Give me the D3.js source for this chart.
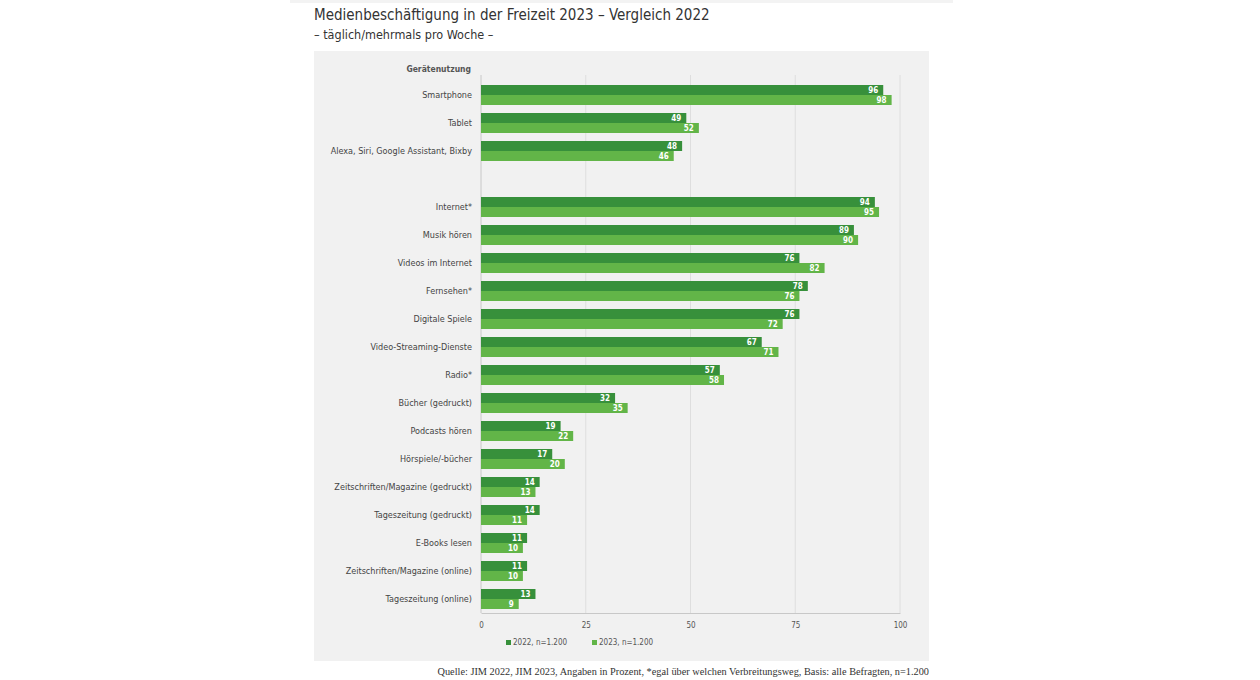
<!DOCTYPE html>
<html>
<head>
<meta charset="utf-8">
<script src="https://cdn.jsdelivr.net/npm/d3@7"></script>
<style>
  body { margin: 0; background: #fff; }
  svg { display: block; }
  text { font-family: "DejaVu Sans Condensed", "DejaVu Sans", sans-serif; }
</style>
</head>
<body>
<div id="chart"></div>
<script>
// Kategorien (leerer Eintrag = Abstand nach der Gerätenutzung)
const categories = [
  "Smartphone", "Tablet", "Alexa, Siri, Google Assistant, Bixby", "",
  "Internet*", "Musik hören", "Videos im Internet", "Fernsehen*",
  "Digitale Spiele", "Video-Streaming-Dienste", "Radio*", "Bücher (gedruckt)",
  "Podcasts hören", "Hörspiele/-bücher", "Zeitschriften/Magazine (gedruckt)",
  "Tageszeitung (gedruckt)", "E-Books lesen", "Zeitschriften/Magazine (online)",
  "Tageszeitung (online)"
];
const values2022 = [96, 49, 48, null, 94, 89, 76, 78, 76, 67, 57, 32, 19, 17, 14, 14, 11, 11, 13];
const values2023 = [98, 52, 46, null, 95, 90, 82, 76, 72, 71, 58, 35, 22, 20, 13, 11, 10, 10, 9];
const series = ["2022, n=1.200", "2023, n=1.200"];
const xTicks = [0, 25, 50, 75, 100];

const colors = ["#37903b", "#62b548"];

const width = 1260, height = 680;
const svg = d3.select('#chart')
  .append('svg')
  .attr('width', width)
  .attr('height', height);

// leichter Streifen oben
svg.append('rect')
  .attr('x', 290).attr('y', 0).attr('width', 663).attr('height', 3)
  .attr('fill', '#f3f3f3');

// Titel
svg.append('text')
  .attr('x', 314).attr('y', 20)
  .style('font-size', '15px')
  .style('fill', '#333')
  .text('Medienbeschäftigung in der Freizeit 2023 – Vergleich 2022');
svg.append('text')
  .attr('x', 314).attr('y', 39)
  .style('font-size', '12.5px')
  .style('fill', '#333')
  .text('– täglich/mehrmals pro Woche –');

// Grauer Hintergrund
svg.append('rect')
  .attr('x', 314).attr('y', 51).attr('width', 615).attr('height', 610)
  .attr('fill', '#f1f1f1');

// Skalen
const x = d3.scaleLinear().domain([0, 100]).range([481, 900]);
const y = d3.scaleBand().domain(d3.range(categories.length)).range([81, 613]);
const ySub = d3.scaleBand().domain([0, 1]).range([4, 24]);

// Gitterlinien
svg.append('g')
  .selectAll('line')
  .data(xTicks)
  .enter().append('line')
  .attr('x1', d => x(d)).attr('x2', d => x(d))
  .attr('y1', 75).attr('y2', 613)
  .style('stroke', d => d === 0 ? '#c8c8c8' : '#dedede')
  .style('stroke-width', '1px');

// x-Achse
const xAxis = svg.append('g')
  .attr('transform', 'translate(0,613)')
  .call(d3.axisBottom(x).tickValues(xTicks).tickSize(0).tickPadding(9));
xAxis.select('.domain').style('stroke', '#c8c8c8');
xAxis.selectAll('text')
  .style('font-size', '8px')
  .style('fill', '#555')
  .style('font-family', '"DejaVu Sans Condensed", sans-serif');

// Überschrift Gerätenutzung
svg.append('text')
  .attr('x', 471).attr('y', 72)
  .attr('text-anchor', 'end')
  .style('font-size', '8.5px')
  .style('font-weight', 'bold')
  .style('fill', '#555')
  .text('Gerätenutzung');

// Kategorien
svg.append('g')
  .selectAll('text')
  .data(categories)
  .enter().append('text')
  .attr('x', 472)
  .attr('y', (d, i) => y(i) + y.bandwidth() / 2)
  .attr('dy', '0.35em')
  .attr('text-anchor', 'end')
  .style('font-size', '9px')
  .style('fill', '#444')
  .text(d => d);

// Balken
const rows = categories.map((c, i) => ({ i, vals: [values2022[i], values2023[i]] }))
  .filter(d => d.vals[0] !== null);

const row = svg.append('g')
  .selectAll('g')
  .data(rows)
  .enter().append('g')
  .attr('transform', d => `translate(0,${y(d.i)})`);

row.selectAll('rect')
  .data(d => d.vals)
  .enter().append('rect')
  .attr('x', x(0))
  .attr('y', (v, j) => ySub(j))
  .attr('width', v => x(v) - x(0))
  .attr('height', ySub.bandwidth())
  .attr('fill', (v, j) => colors[j]);

row.selectAll('text')
  .data(d => d.vals)
  .enter().append('text')
  .attr('x', v => x(v) - 5)
  .attr('y', (v, j) => ySub(j) + ySub.bandwidth() / 2)
  .attr('dy', '0.35em')
  .attr('text-anchor', 'end')
  .style('font-size', '8px')
  .style('font-weight', 'bold')
  .style('fill', '#fff')
  .text(v => v);

// Legende
const legend = svg.append('g')
  .selectAll('g')
  .data(series)
  .enter().append('g')
  .attr('transform', (d, i) => `translate(${506 + i * 86},643)`);
legend.append('rect')
  .attr('x', 0).attr('y', -3).attr('width', 5).attr('height', 5)
  .attr('fill', (d, i) => colors[i]);
legend.append('text')
  .attr('x', 7).attr('dy', '0.3em')
  .style('font-size', '8px')
  .style('fill', '#555')
  .text(d => d);

// Quelle
svg.append('text')
  .attr('x', 929).attr('y', 675)
  .attr('text-anchor', 'end')
  .style('font-family', '"Liberation Serif", "DejaVu Serif", serif')
  .style('font-size', '10.3px')
  .style('fill', '#333')
  .text('Quelle: JIM 2022, JIM 2023, Angaben in Prozent, *egal über welchen Verbreitungsweg, Basis: alle Befragten, n=1.200');
</script>
</body>
</html>
